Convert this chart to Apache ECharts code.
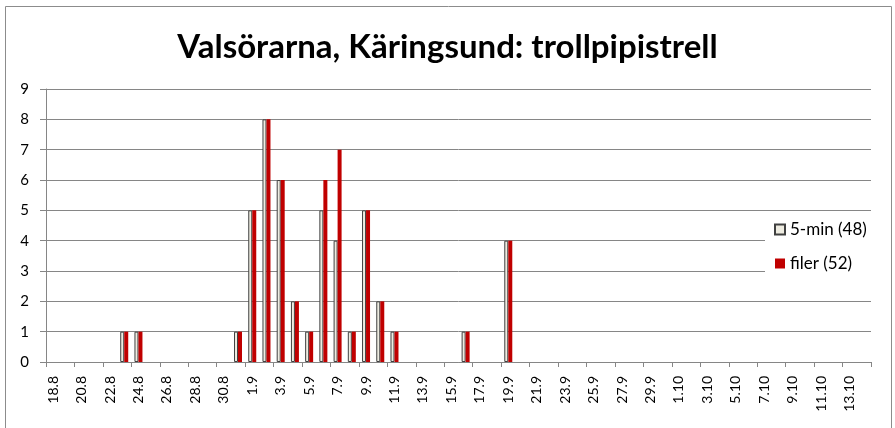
<!DOCTYPE html>
<html>
<head>
<meta charset="utf-8">
<script src="https://cdn.jsdelivr.net/npm/echarts@6/dist/echarts.min.js"></script>
<style>
  html, body { margin: 0; padding: 0; background: #fff; }
  #chart { width: 895px; height: 428px; }
</style>
</head>
<body>
<div id="chart"></div>
<script>
  // dagar 18.8 - 14.10
  var days = [
    '18.8','19.8','20.8','21.8','22.8','23.8','24.8','25.8','26.8','27.8','28.8','29.8','30.8','31.8',
    '1.9','2.9','3.9','4.9','5.9','6.9','7.9','8.9','9.9','10.9','11.9','12.9','13.9','14.9','15.9',
    '16.9','17.9','18.9','19.9','20.9','21.9','22.9','23.9','24.9','25.9','26.9','27.9','28.9','29.9','30.9',
    '1.10','2.10','3.10','4.10','5.10','6.10','7.10','8.10','9.10','10.10','11.10','12.10','13.10','14.10'
  ];
  var fiveMin = [
    0,0,0,0,0,1,1,0,0,0,0,0,0,1,
    5,8,6,2,1,5,4,1,5,2,1,0,0,0,0,
    1,0,0,4,0,0,0,0,0,0,0,0,0,0,0,
    0,0,0,0,0,0,0,0,0,0,0,0,0,0
  ];
  var filer = [
    0,0,0,0,0,1,1,0,0,0,0,0,0,1,
    5,8,6,2,1,6,7,1,5,2,1,0,0,0,0,
    1,0,0,4,0,0,0,0,0,0,0,0,0,0,0,
    0,0,0,0,0,0,0,0,0,0,0,0,0,0
  ];
  var seriesNames = ['5-min (48)', 'filer (52)'];
  var titleText = 'Valsörarna, Käringsund: trollpipistrell';

  var font = 'Lato, "Open Sans", sans-serif';
  var chart = echarts.init(document.getElementById('chart'));

  // nollor ritas inte (som i Excel)
  function hideZero(arr) {
    return arr.map(function (v) { return v === 0 ? '-' : v; });
  }

  var option = {
    animation: false,
    backgroundColor: '#fff',
    textStyle: { fontFamily: font },
    title: {
      text: titleText,
      left: 'center',
      top: 26,
      textStyle: { fontSize: 33, fontWeight: 'bold', color: '#000', fontFamily: font }
    },
    graphic: [{
      type: 'rect',
      shape: { x: 5.5, y: 6.5, width: 886, height: 440 },
      style: { fill: 'none', stroke: '#8c8c8c', lineWidth: 1 },
      z: -10
    }],
    legend: {
      orient: 'vertical',
      left: 765,
      top: 215,
      padding: [6, 8, 8, 9],
      backgroundColor: '#fff',
      icon: 'rect',
      itemWidth: 10,
      itemHeight: 10,
      itemGap: 17,
      textStyle: { fontSize: 17, color: '#000', fontFamily: font },
      data: seriesNames
    },
    grid: { left: 46, right: 24, top: 89, bottom: 66 },
    xAxis: {
      type: 'category',
      data: days,
      boundaryGap: true,
      axisLine: { lineStyle: { color: '#868686', width: 1 } },
      axisTick: { show: true, interval: 1, length: 5, lineStyle: { color: '#868686' } },
      axisLabel: { interval: 1, rotate: 90, margin: 14, fontSize: 14, color: '#000', fontFamily: font }
    },
    yAxis: {
      type: 'value',
      min: 0,
      max: 9,
      interval: 1,
      axisLine: { show: true, lineStyle: { color: '#868686', width: 1 } },
      axisTick: { show: true, length: 6, inside: false, lineStyle: { color: '#868686' } },
      axisLabel: { margin: 17, fontSize: 15, color: '#000', fontFamily: font },
      splitLine: { show: true, lineStyle: { color: '#868686', width: 1 } }
    },
    series: [
      {
        name: seriesNames[0],
        type: 'bar',
        barWidth: 4,
        barGap: '0%',
        itemStyle: { color: '#EEECE1', borderColor: '#404040', borderWidth: 1 },
        data: hideZero(fiveMin)
      },
      {
        name: seriesNames[1],
        type: 'bar',
        barWidth: 4,
        barGap: '0%',
        itemStyle: { color: '#C00000' },
        data: hideZero(filer)
      }
    ]
  };

  chart.setOption(option);
</script>
</body>
</html>
